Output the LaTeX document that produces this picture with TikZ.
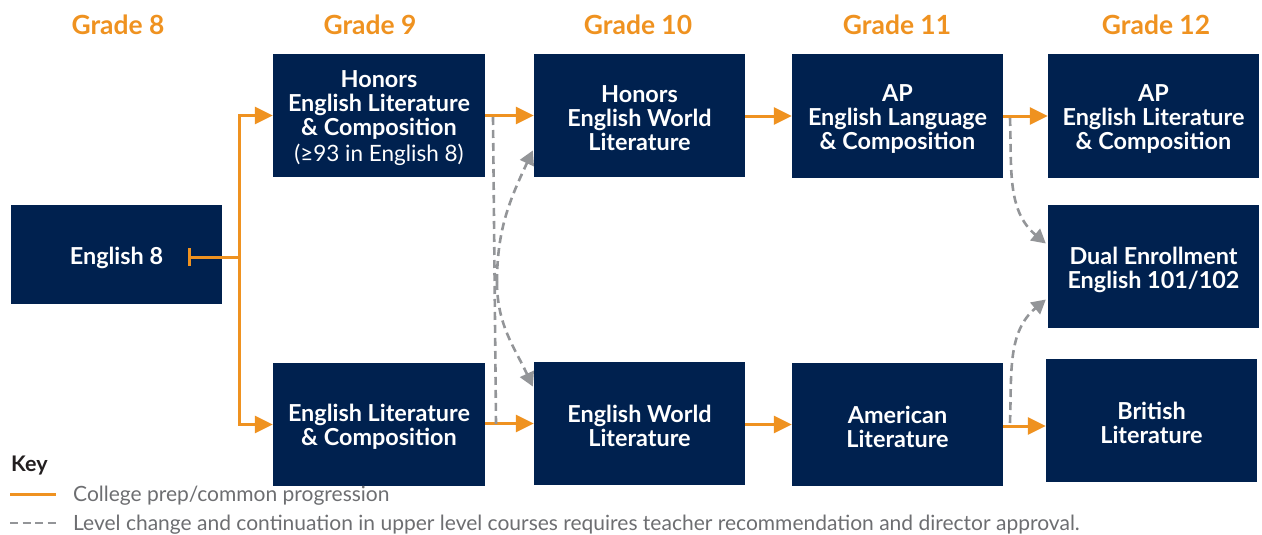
\documentclass[tikz,border=0pt]{standalone}
\usepackage{fontspec}
\setmainfont{Lato}
\usetikzlibrary{arrows.meta,calc}
\definecolor{navy}{HTML}{00214F}
\definecolor{orng}{HTML}{EF9220}
\definecolor{dgray}{HTML}{939598}
\definecolor{tgray}{HTML}{6D6E71}
\definecolor{kgray}{HTML}{231F20}
\tikzset{
  course/.style={fill=navy, minimum width=211pt, minimum height=123pt, inner sep=0pt},
  ctext/.style={text=white, inner sep=0pt, align=center, font=\fontsize{23.4}{24}\selectfont\bfseries},
  grade/.style={text=orng, font=\fontsize{26.4}{28}\selectfont\bfseries},
  oline/.style={draw=orng, line width=3pt},
  oarrow/.style={oline, -{Triangle[length=18pt,width=17pt]}},
  glink/.style={draw=dgray, line width=2.6pt, dash pattern=on 8pt off 5pt},
  garrow/.style={glink, -{Triangle[length=14pt,width=15pt]}},
  keytext/.style={text=tgray, anchor=west, inner sep=0pt, font=\fontsize{21}{22}\selectfont},
}
\begin{document}
\begin{tikzpicture}[x=1pt,y=-1pt]
\useasboundingbox (0,0) rectangle (1262,535);
% grade headers
\node[grade] (g8) at (118,25) {Grade 8};
\node[grade] (g9) at (370,25) {Grade 9};
\node[grade] (g10) at (638,25) {Grade 10};
\node[grade] (g11) at (897,25) {Grade 11};
\node[grade] (g12) at (1156,25) {Grade 12};
% course boxes
\node[course, minimum height=99pt] (e8) at (116.5,254.5) {};
\node[course, minimum width=212pt] (h9) at (379,115.5) {};
\node[course, minimum width=212pt] (el9) at (379,424.5) {};
\node[course] (h10) at (639.5,115.5) {};
\node[course] (ew10) at (639.5,423.5) {};
\node[course] (ap11) at (897.5,116) {};
\node[course] (am11) at (897.5,424.5) {};
\node[course] (ap12) at (1153.5,116) {};
\node[course] (du12) at (1153.5,266.5) {};
\node[course] (br12) at (1151.5,420.5) {};
% course texts
\node[ctext] (e8t) at ($(e8)+(0,3)$) {English 8};
\node[ctext] (h9t) at ($(h9)+(0,3)$) {Honors\\English Literature\\\& Composition\\[2pt]{\mdseries\fontsize{22.5}{24}\selectfont(≥93 in English 8)}};
\node[ctext] (el9t) at ($(el9)+(0,2)$) {English Literature\\\& Composition};
\node[ctext] (h10t) at ($(h10)+(0,3)$) {Honors\\English World\\Literature};
\node[ctext] (ew10t) at ($(ew10)+(0,2)$) {English World\\Literature};
\node[ctext] (ap11t) at ($(ap11)+(0,3)$) {AP\\English Language\\\& Composition};
\node[ctext] (am11t) at ($(am11)+(0,2)$) {American\\Literature};
\node[ctext] (ap12t) at ($(ap12)+(0,3)$) {AP\\English Literature\\\& Composition};
\node[ctext] (du12t) at ($(du12)+(0,3)$) {Dual Enrollment\\English 101/102};
\node[ctext] (br12t) at ($(br12)+(0,2)$) {British\\Literature};
% orange progression
\coordinate (tick) at (188,257);
\coordinate (split) at (239,257);
\draw[oline, {Bar[width=18pt,line width=3pt]}-] (tick) -- (split);
\draw[oarrow] (split) |- (h9.west);
\draw[oarrow] (split) |- (el9.west);
\draw[oarrow] (h9.east) -- (h10.west);
\draw[oarrow] (h10.east |- ap11.west) -- (ap11.west);
\draw[oarrow] (ap11.east) -- (ap12.west);
\draw[oarrow] (el9.east |- ew10.west) -- (ew10.west);
\draw[oarrow] (ew10.east |- am11.west) -- (am11.west);
\draw[oarrow] (am11.east) ++(0,1.5) coordinate (amo) -- (amo -| br12.west);
% gray dashed level changes
\coordinate (d1) at (493,117);
\coordinate (d2) at (496,424);
\coordinate (mid) at (497,282);
\draw[glink] (d1) -- (d2);
\draw[garrow] (mid) to[out=-90,in=115] ($(ew10.west)+(-1,-37)$);
\draw[garrow] (mid) to[out=90,in=-115] ($(h10.west)+(-1,35)$);
\coordinate (r1) at (1010,118);
\coordinate (r2) at (1010,423);
\draw[garrow] (r1) to[out=-88,in=140] ($(du12.west)+(-2,-23)$);
\draw[garrow] (r2) to[out=88,in=-140] ($(du12.west)+(-2,33)$);
% key
\node[anchor=west, inner sep=0pt, text=kgray, font=\fontsize{21.5}{22}\selectfont\bfseries] (key) at (11,466) {Key};
\coordinate (k1a) at (10,494);
\coordinate (k1b) at (56,494);
\draw[oline] (k1a) -- (k1b);
\node[keytext] (kt1) at (73,496) {College prep/common progression};
\coordinate (k2a) at (10,523);
\coordinate (k2b) at (56,523);
\draw[draw=dgray, line width=2pt, dash pattern=on 8pt off 4.5pt] (k2a) -- (k2b);
\node[keytext] (kt2) at (73,525) {Level change and continuation in upper level courses requires teacher recommendation and director approval.};
\end{tikzpicture}
\end{document}
